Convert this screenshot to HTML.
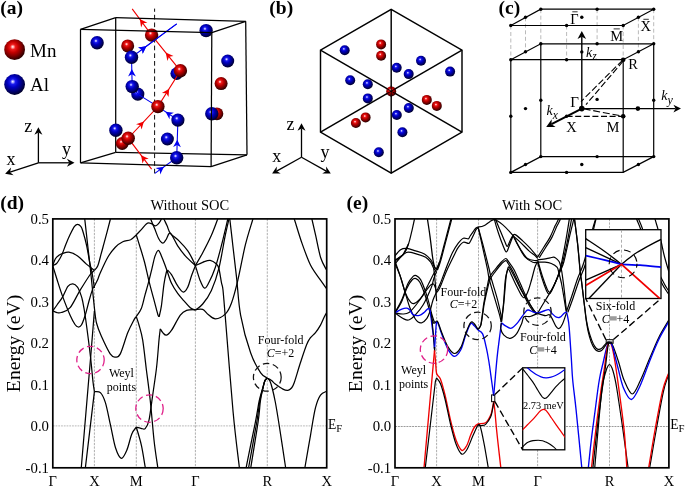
<!DOCTYPE html>
<html><head><meta charset="utf-8"><title>Figure</title>
<style>html,body{margin:0;padding:0;background:#fff;}svg{display:block;will-change:transform;}text{font-family:"Liberation Serif",serif;}</style>
</head><body>
<svg width="685" height="486" viewBox="0 0 685 486">
<defs>
<radialGradient id="gr" cx="0.43" cy="0.40" r="0.64" fx="0.41" fy="0.36"><stop offset="0" stop-color="#ffffff"/><stop offset="0.07" stop-color="#ffb0b0"/><stop offset="0.2" stop-color="#ee1a1a"/><stop offset="0.42" stop-color="#c00000"/><stop offset="0.68" stop-color="#780000"/><stop offset="0.88" stop-color="#3a0000"/><stop offset="1" stop-color="#1a0000"/></radialGradient>
<radialGradient id="gb" cx="0.43" cy="0.40" r="0.64" fx="0.41" fy="0.36"><stop offset="0" stop-color="#ffffff"/><stop offset="0.07" stop-color="#b0b0ff"/><stop offset="0.2" stop-color="#1a1aee"/><stop offset="0.42" stop-color="#0000c0"/><stop offset="0.68" stop-color="#000078"/><stop offset="0.88" stop-color="#00003a"/><stop offset="1" stop-color="#00001a"/></radialGradient>
</defs>
<rect width="685" height="486" fill="#fff"/>
<text x="0.3" y="13.6" font-size="19.5" text-anchor="start" font-weight="bold" font-style="normal" fill="#000" >(a)</text>
<circle cx="14.6" cy="49.7" r="10.4" fill="url(#gr)"/>
<circle cx="14.6" cy="84.5" r="10.4" fill="url(#gb)"/>
<text x="30" y="56.6" font-size="19" text-anchor="start" font-weight="normal" font-style="normal" fill="#000" >Mn</text>
<text x="30" y="91" font-size="19" text-anchor="start" font-weight="normal" font-style="normal" fill="#000" >Al</text>
<path d="M38.4,162.8 L38.4,132.4" fill="none" stroke="#000" stroke-width="1.3" />
<polygon points="38.4,127.2 42.4,134.8 38.4,132.4 34.4,134.8" fill="#000"/>
<path d="M38.4,162.8 L69.3,162.8" fill="none" stroke="#000" stroke-width="1.3" />
<polygon points="74.5,162.8 66.9,166.8 69.3,162.8 66.9,158.8" fill="#000"/>
<path d="M38.4,162.8 L10,172.2" fill="none" stroke="#000" stroke-width="1.3" />
<polygon points="5.1,173.8 11.1,167.6 10,172.2 13.6,175.2" fill="#000"/>
<text x="24.3" y="131.6" font-size="18" text-anchor="start" font-weight="normal" font-style="normal" fill="#000" >z</text>
<text x="62" y="155.3" font-size="18" text-anchor="start" font-weight="normal" font-style="normal" fill="#000" >y</text>
<text x="6.4" y="164.7" font-size="18" text-anchor="start" font-weight="normal" font-style="normal" fill="#000" >x</text>
<path d="M115.7,17.6 L115.7,152.3" fill="none" stroke="#000" stroke-width="1.25" />
<path d="M115.7,152.3 L247,154.8" fill="none" stroke="#000" stroke-width="1.25" />
<path d="M115.7,152.3 L80.5,162.9" fill="none" stroke="#000" stroke-width="1.25" />
<path d="M154.6,8.6 L154.6,173.4" fill="none" stroke="#000" stroke-width="0.95" stroke-dasharray="4.7,3" stroke-dashoffset="1.5"/>
<circle cx="97.1" cy="42.7" r="6.7" fill="url(#gb)"/>
<circle cx="127.7" cy="45.9" r="6.5" fill="url(#gr)"/>
<circle cx="206.1" cy="30.6" r="6.7" fill="url(#gb)"/>
<circle cx="227.7" cy="61" r="6.5" fill="url(#gb)"/>
<circle cx="221.1" cy="83.6" r="6.5" fill="url(#gr)"/>
<circle cx="216.9" cy="113.8" r="6.4" fill="url(#gr)"/>
<circle cx="211.8" cy="113.8" r="6.7" fill="url(#gb)"/>
<circle cx="176.7" cy="73.6" r="6.3" fill="url(#gb)"/>
<circle cx="137.8" cy="94.1" r="6.6" fill="url(#gb)"/>
<circle cx="122.2" cy="143.5" r="6.4" fill="url(#gr)"/>
<circle cx="115.9" cy="130.2" r="6.7" fill="url(#gb)"/>
<circle cx="167.4" cy="139" r="6.5" fill="url(#gb)"/>
<path d="M132.2,8.8 L151.6,35.1 L180.4,70.8 L157.9,106.6 L128.2,138.2 L151.6,169.1" fill="none" stroke="#f00000" stroke-width="1.1" />
<path d="M176.7,23.9 L131.5,57.2 L132.2,86.6 L137.8,94.1 L157.9,106.6 L177.9,120.1 L176.7,157.8 L154.8,173.4" fill="none" stroke="#0000f0" stroke-width="1.1" />
<polygon points="139.8,19.1 147.4,22.8 142.9,23.3 141.1,27.4" fill="#f00000"/>
<polygon points="165.7,52.6 173.5,56 169,56.7 167.4,60.9" fill="#f00000"/>
<polygon points="169.2,88.7 168.5,97.1 166.3,93.2 161.9,93" fill="#f00000"/>
<polygon points="143.9,121.5 141.6,129.6 140.3,125.3 136,124.2" fill="#f00000"/>
<polygon points="141.1,155.2 148.7,158.8 144.3,159.4 142.5,163.5" fill="#f00000"/>
<polygon points="146.4,46.2 142.7,53.8 142.1,49.4 138.1,47.5" fill="#0000f0"/>
<polygon points="131.8,69 135.9,76.4 131.9,74.3 128.1,76.6" fill="#0000f0"/>
<polygon points="165.5,111.7 173.9,112.7 169.9,114.7 169.5,119.2" fill="#0000f0"/>
<polygon points="177.3,139.7 180.9,147.3 177.1,145 173.1,147.1" fill="#0000f0"/>
<polygon points="164,166.8 160.2,174.4 159.7,169.9 155.6,168" fill="#0000f0"/>
<circle cx="151.6" cy="35.1" r="6.7" fill="url(#gr)"/>
<path d="M176.7,23.9 L140,50.9" fill="none" stroke="#0000f0" stroke-width="1.1" />
<polygon points="146.4,46.2 142.7,53.8 142.1,49.4 138.1,47.5" fill="#0000f0"/>
<circle cx="131.5" cy="57.2" r="6.7" fill="url(#gb)"/>
<circle cx="180.4" cy="70.8" r="6.7" fill="url(#gr)"/>
<circle cx="132.2" cy="86.6" r="6.7" fill="url(#gb)"/>
<circle cx="157.9" cy="106.6" r="6.7" fill="url(#gr)"/>
<circle cx="177.9" cy="120.1" r="6.6" fill="url(#gb)"/>
<circle cx="128.2" cy="138.2" r="6.7" fill="url(#gr)"/>
<circle cx="176.7" cy="157.8" r="6.7" fill="url(#gb)"/>
<path d="M80.5,29.4 L211.8,32.6" fill="none" stroke="#000" stroke-width="1.25" />
<path d="M115.7,17.6 L245.7,21.3" fill="none" stroke="#000" stroke-width="1.25" />
<path d="M80.5,29.4 L115.7,17.6" fill="none" stroke="#000" stroke-width="1.25" />
<path d="M211.8,32.6 L245.7,21.3" fill="none" stroke="#000" stroke-width="1.25" />
<path d="M80.5,29.4 L80.5,162.9" fill="none" stroke="#000" stroke-width="1.25" />
<path d="M211.8,32.6 L211.1,166.6" fill="none" stroke="#000" stroke-width="1.25" />
<path d="M245.7,21.3 L247,154.8" fill="none" stroke="#000" stroke-width="1.25" />
<path d="M80.5,162.9 L211.1,166.6" fill="none" stroke="#000" stroke-width="1.25" />
<path d="M211.1,166.6 L247,154.8" fill="none" stroke="#000" stroke-width="1.25" />
<text x="269.3" y="13.6" font-size="19.5" text-anchor="start" font-weight="bold" font-style="normal" fill="#000" >(b)</text>
<path d="M320.5,50.2 L462,132.2" fill="none" stroke="#000" stroke-width="1.45" />
<path d="M462,50.2 L320.5,132.2" fill="none" stroke="#000" stroke-width="1.45" />
<path d="M391.2,9.3 L391.2,173.2" fill="none" stroke="#000" stroke-width="1.45" />
<circle cx="344.7" cy="50.2" r="5" fill="url(#gb)"/>
<circle cx="381.1" cy="44.4" r="5" fill="url(#gr)"/>
<circle cx="381.1" cy="55.7" r="5" fill="url(#gr)"/>
<circle cx="396.7" cy="67.8" r="5" fill="url(#gb)"/>
<circle cx="408.7" cy="74.1" r="5" fill="url(#gb)"/>
<circle cx="421" cy="60.8" r="5" fill="url(#gb)"/>
<circle cx="450.1" cy="71.6" r="5" fill="url(#gb)"/>
<circle cx="350.2" cy="80.3" r="5" fill="url(#gb)"/>
<circle cx="367.8" cy="84.2" r="5" fill="url(#gb)"/>
<circle cx="367.8" cy="98.4" r="5" fill="url(#gb)"/>
<circle cx="391.2" cy="91.4" r="5" fill="url(#gr)"/>
<circle cx="426.8" cy="99.9" r="5" fill="url(#gr)"/>
<circle cx="436.8" cy="105.9" r="5" fill="url(#gr)"/>
<circle cx="408.8" cy="108" r="5" fill="url(#gb)"/>
<circle cx="396.8" cy="115" r="5" fill="url(#gb)"/>
<circle cx="365.6" cy="117.4" r="5" fill="url(#gr)"/>
<circle cx="355.9" cy="123" r="5" fill="url(#gr)"/>
<circle cx="402.4" cy="132.2" r="5" fill="url(#gb)"/>
<circle cx="378.8" cy="152.3" r="5" fill="url(#gb)"/>
<polygon points="391.2,9.3 462,50.2 462,132.2 391.2,173.2 320.5,132.2 320.5,50.2" fill="none" stroke="#000" stroke-width="1.45" stroke-linejoin="miter"/>
<path d="M386,88.2 L396.4,94.2" fill="none" stroke="#000" stroke-width="0.9" />
<path d="M396.4,88.2 L386,94.2" fill="none" stroke="#000" stroke-width="0.9" />
<path d="M391.2,85.5 L391.2,97" fill="none" stroke="#000" stroke-width="0.9" />
<path d="M301.5,157.3 L301.5,128.4" fill="none" stroke="#000" stroke-width="1.3" />
<polygon points="301.5,123.2 305.5,130.8 301.5,128.4 297.5,130.8" fill="#000"/>
<path d="M301.5,157.3 L276.6,171.1" fill="none" stroke="#000" stroke-width="1.3" />
<polygon points="272.1,173.6 276.8,166.4 276.6,171.1 280.7,173.4" fill="#000"/>
<path d="M301.5,157.3 L326.3,171.1" fill="none" stroke="#000" stroke-width="1.3" />
<polygon points="330.8,173.6 322.2,173.4 326.3,171.1 326.1,166.4" fill="#000"/>
<text x="286.5" y="130.2" font-size="18" text-anchor="start" font-weight="normal" font-style="normal" fill="#000" >z</text>
<text x="272.3" y="161.6" font-size="18" text-anchor="start" font-weight="normal" font-style="normal" fill="#000" >x</text>
<text x="320.5" y="157.8" font-size="18" text-anchor="start" font-weight="normal" font-style="normal" fill="#000" >y</text>
<text x="498.6" y="13.6" font-size="19.5" text-anchor="start" font-weight="bold" font-style="normal" fill="#000" >(c)</text>
<path d="M510.8,25.5 L510.8,59.8" fill="none" stroke="#a8a8a8" stroke-width="0.8" stroke-dasharray="4,2.5"/>
<path d="M525.5,17.3 L525.5,51.6" fill="none" stroke="#a8a8a8" stroke-width="0.8" stroke-dasharray="4,2.5"/>
<path d="M540.8,9.2 L540.8,43.5" fill="none" stroke="#a8a8a8" stroke-width="0.8" stroke-dasharray="4,2.5"/>
<path d="M597.1,9.2 L597.1,43.5" fill="none" stroke="#a8a8a8" stroke-width="0.8" stroke-dasharray="4,2.5"/>
<path d="M653.7,9.2 L653.7,43.5" fill="none" stroke="#a8a8a8" stroke-width="0.8" stroke-dasharray="4,2.5"/>
<path d="M638.4,17.3 L638.4,51.6" fill="none" stroke="#a8a8a8" stroke-width="0.8" stroke-dasharray="4,2.5"/>
<path d="M623.2,25.5 L623.2,59.8" fill="none" stroke="#a8a8a8" stroke-width="0.8" stroke-dasharray="4,2.5"/>
<path d="M566.6,25.5 L566.6,59.8" fill="none" stroke="#a8a8a8" stroke-width="0.8" stroke-dasharray="4,2.5"/>
<polygon points="510.8,25.5 540.8,9.2 653.7,9.2 623.2,25.5" fill="none" stroke="#000" stroke-width="1.2"/>
<circle cx="510.8" cy="25.5" r="1.7" fill="#000"/>
<circle cx="525.5" cy="17.3" r="1.7" fill="#000"/>
<circle cx="540.8" cy="9.2" r="1.7" fill="#000"/>
<circle cx="597.1" cy="9.2" r="1.7" fill="#000"/>
<circle cx="653.7" cy="9.2" r="1.7" fill="#000"/>
<circle cx="638.4" cy="17.3" r="1.7" fill="#000"/>
<circle cx="623.2" cy="25.5" r="1.7" fill="#000"/>
<circle cx="566.6" cy="25.5" r="1.7" fill="#000"/>
<circle cx="581.8" cy="17.3" r="1.7" fill="#000"/>
<polygon points="510.8,59.7 540.8,43.8 653.7,43.8 623.2,59.7" fill="none" stroke="#000" stroke-width="1.2"/>
<polygon points="510.8,172.4 540.8,156.6 653.7,156.6 623.2,172.4" fill="none" stroke="#000" stroke-width="1.2"/>
<path d="M510.8,59.7 L510.8,172.4" fill="none" stroke="#000" stroke-width="1.2" />
<path d="M540.8,43.8 L540.8,156.6" fill="none" stroke="#000" stroke-width="1.2" />
<path d="M653.7,43.8 L653.7,156.6" fill="none" stroke="#000" stroke-width="1.2" />
<path d="M623.2,59.7 L623.2,172.4" fill="none" stroke="#000" stroke-width="1.2" />
<circle cx="510.8" cy="59.7" r="1.7" fill="#000"/>
<circle cx="525.5" cy="51.7" r="1.7" fill="#000"/>
<circle cx="540.8" cy="43.8" r="1.7" fill="#000"/>
<circle cx="597.1" cy="43.8" r="1.7" fill="#000"/>
<circle cx="653.7" cy="43.8" r="1.7" fill="#000"/>
<circle cx="638.4" cy="51.7" r="1.7" fill="#000"/>
<circle cx="566.6" cy="59.7" r="1.7" fill="#000"/>
<circle cx="510.8" cy="172.4" r="1.7" fill="#000"/>
<circle cx="525.5" cy="164.5" r="1.7" fill="#000"/>
<circle cx="540.8" cy="156.6" r="1.7" fill="#000"/>
<circle cx="597.1" cy="156.6" r="1.7" fill="#000"/>
<circle cx="653.7" cy="156.6" r="1.7" fill="#000"/>
<circle cx="638.4" cy="164.5" r="1.7" fill="#000"/>
<circle cx="566.6" cy="172.4" r="1.7" fill="#000"/>
<circle cx="581.8" cy="164.5" r="1.7" fill="#000"/>
<circle cx="510.8" cy="116.3" r="1.7" fill="#000"/>
<circle cx="540.8" cy="100.3" r="1.7" fill="#000"/>
<circle cx="653.7" cy="100.3" r="1.7" fill="#000"/>
<circle cx="525.5" cy="108.6" r="1.7" fill="#000"/>
<circle cx="597.1" cy="99.4" r="1.7" fill="#000"/>
<circle cx="566.6" cy="116.3" r="1.7" fill="#000"/>
<circle cx="581.8" cy="51.9" r="1.7" fill="#000"/>
<circle cx="623.2" cy="59.7" r="2.3" fill="#000"/>
<circle cx="623.2" cy="116.3" r="2.3" fill="#000"/>
<circle cx="637.9" cy="108.6" r="2.3" fill="#000"/>
<circle cx="581.8" cy="108.6" r="2.8" fill="#000"/>
<path d="M581.8,108.6 L581.8,36.7" fill="none" stroke="#000" stroke-width="1.4" />
<polygon points="581.8,31.1 586.1,39.1 581.8,36.7 577.5,39.1" fill="#000"/>
<path d="M581.8,108.6 L675.6,108.6" fill="none" stroke="#000" stroke-width="1.4" />
<polygon points="681,108.6 673.4,112.4 675.6,108.6 673.4,104.8" fill="#000"/>
<path d="M581.8,108.6 L551.5,124.2" fill="none" stroke="#000" stroke-width="2.0" />
<polygon points="546.2,127 551.7,119.3 551.5,124.2 555.6,127" fill="#000"/>
<path d="M566.6,116.4 L623.2,116.4" fill="none" stroke="#000" stroke-width="1.1" stroke-dasharray="6,2.6"/>
<path d="M583.6,108.8 L622.1,116.1" fill="none" stroke="#000" stroke-width="1.1" stroke-dasharray="7,2.8"/>
<path d="M622.5,60.3 L581,101.6" fill="none" stroke="#000" stroke-width="1.1" stroke-dasharray="6.5,2.6"/>
<path d="M623.1,61.2 L586,104.6" fill="none" stroke="#000" stroke-width="1.1" stroke-dasharray="6.5,2.6"/>
<text x="570.3" y="23.6" font-size="14.5" text-anchor="start" font-weight="normal" font-style="normal" fill="#000" >Γ</text>
<path d="M572.3,11.8 L577.6,11.8" fill="none" stroke="#000" stroke-width="0.8" />
<text x="610.3" y="40.6" font-size="14.5" text-anchor="start" font-weight="normal" font-style="normal" fill="#000" >M</text>
<path d="M613.6,28.9 L619.8,28.9" fill="none" stroke="#000" stroke-width="0.8" />
<text x="640.6" y="30.9" font-size="14.5" text-anchor="start" font-weight="normal" font-style="normal" fill="#000" >X</text>
<path d="M643.4,19.3 L648.8,19.3" fill="none" stroke="#000" stroke-width="0.8" />
<text x="586" y="57.3" font-size="14" text-anchor="start" font-weight="normal" font-style="italic" fill="#000" >k</text>
<text x="592.3" y="60.3" font-size="11.5" text-anchor="start" font-weight="normal" font-style="italic" fill="#000" >z</text>
<text x="628.2" y="68.5" font-size="14.5" text-anchor="start" font-weight="normal" font-style="normal" fill="#000" >R</text>
<text x="570.3" y="106.8" font-size="15" text-anchor="start" font-weight="normal" font-style="normal" fill="#000" >Γ</text>
<text x="546.6" y="115.3" font-size="14" text-anchor="start" font-weight="normal" font-style="italic" fill="#000" >k</text>
<text x="552.8" y="118.7" font-size="11.5" text-anchor="start" font-weight="normal" font-style="italic" fill="#000" >x</text>
<text x="566.2" y="131.9" font-size="14.5" text-anchor="start" font-weight="normal" font-style="normal" fill="#000" >X</text>
<text x="606.6" y="131.9" font-size="14.5" text-anchor="start" font-weight="normal" font-style="normal" fill="#000" >M</text>
<text x="661.2" y="100.2" font-size="14" text-anchor="start" font-weight="normal" font-style="italic" fill="#000" >k</text>
<text x="667.5" y="103.6" font-size="12" text-anchor="start" font-weight="normal" font-style="italic" fill="#000" >y</text>
<path d="M94.4,218.9 L94.4,467.8" fill="none" stroke="#8c8c8c" stroke-width="0.7" stroke-dasharray="2.3,1.2"/>
<path d="M136.3,218.9 L136.3,467.8" fill="none" stroke="#8c8c8c" stroke-width="0.7" stroke-dasharray="2.3,1.2"/>
<path d="M195.4,218.9 L195.4,467.8" fill="none" stroke="#8c8c8c" stroke-width="0.7" stroke-dasharray="2.3,1.2"/>
<path d="M267.3,218.9 L267.3,467.8" fill="none" stroke="#8c8c8c" stroke-width="0.7" stroke-dasharray="2.3,1.2"/>
<path d="M52.8,425.9 L326.7,425.9" fill="none" stroke="#a0a0a0" stroke-width="0.75" stroke-dasharray="1.8,0.95"/>
<clipPath id="clipd"><rect x="52.8" y="218.9" width="273.9" height="248.9"/></clipPath>
<g clip-path="url(#clipd)">
<path d="M52.7,265.6 C53.4,265.2 55.4,264.7 56.6,263.5 C57.8,262.3 59.1,259.9 60.1,258.2 C61.1,256.5 61.4,255.9 62.4,253.5 C63.4,251.1 64.7,247.2 66,244 C67.3,240.8 68.7,237.5 70.1,234.6 C71.5,231.7 73.2,228.1 74.5,226.4 C75.8,224.7 76.5,224.3 77.6,224.3 C78.6,224.3 79.9,225.3 80.8,226.4 C81.7,227.5 81.8,227.8 82.7,230.8 C83.6,233.8 85.2,238.9 86.4,244.6 C87.7,250.2 89.2,260 90.2,264.7 C91.2,269.4 91.4,269.1 92.1,273 C92.8,276.9 94,285.5 94.4,288" fill="none" stroke="#000" stroke-width="1.25" />
<path d="M52.7,265.6 C53.2,264.5 54.4,260.5 55.4,258.8 C56.4,257.1 57.7,256.2 58.9,255.3 C60.1,254.4 60.7,254 62.4,253.5 C64.1,253 66.4,251.8 68.9,252.2 C71.4,252.6 74.7,254 77.6,256 C80.5,258 83.6,261.7 86.4,264.1 C89.2,266.5 93.1,269.3 94.4,270.4" fill="none" stroke="#000" stroke-width="1.25" />
<path d="M84.3,215 L90.8,273 L94.4,308" fill="none" stroke="#000" stroke-width="1.25" />
<path d="M52.7,265.6 C53.5,268.2 55.9,275.9 57.5,281 C59.1,286.1 60.5,290.7 62.6,296.4 C64.7,302.1 68,310.5 70.1,315.2 C72.2,319.9 73.7,322.5 75,324.5 C76.3,326.5 77.1,326.9 78.2,327 C79.3,327.1 80.2,327 81.4,325 C82.6,323 83.9,319.2 85.2,315.2 C86.5,311.2 87.8,305.4 89,301 C90.2,296.6 91.8,291.4 92.7,288.9 C93.6,286.4 93.6,287.5 94.4,286 C95.2,284.5 96.5,282.2 97.5,280 C98.5,277.8 98.5,276.8 100.2,273 C101.9,269.2 105.3,261.5 107.8,257.2 C110.3,252.9 112.8,249.8 115.3,247.2 C117.8,244.6 120.2,243.1 122.8,241.8 C125.3,240.6 128.3,240.8 130.6,239.7 C132.8,238.5 135.4,235.7 136.3,234.9" fill="none" stroke="#000" stroke-width="1.25" />
<path d="M52.7,310.8 C53.4,309.8 55.4,307.3 57,305 C58.6,302.7 60.7,300.2 62.5,297.1 C64.3,294 66.2,288.5 67.9,286.3 C69.6,284.1 71.3,283.7 72.9,283.8 C74.5,283.9 76.2,285.3 77.5,287.1 C78.8,288.9 80,292.3 80.8,294.6 C81.6,296.9 81.8,297.1 82.6,301 C83.4,304.9 84.2,308.6 85.5,318 C86.8,327.4 89.4,347.2 90.6,357.7 C91.8,368.2 92.3,375.4 92.9,381 C93.5,386.6 94.2,389.8 94.4,391.6" fill="none" stroke="#000" stroke-width="1.25" />
<path d="M52.7,310.8 C53.4,311.1 55.6,312.3 57,312.6 C58.4,312.9 59.1,313.3 61.3,312.5 C63.5,311.7 66.9,311.4 70.1,307.7 C73.2,304 76.8,295.6 80.2,290.1 C83.6,284.6 87.8,277.8 90.2,274.5 C92.6,271.2 93.7,271.1 94.4,270.4" fill="none" stroke="#000" stroke-width="1.25" />
<path d="M94.4,311 L90.6,357.7 L88.6,381 L81.3,467.5 L80.5,477" fill="none" stroke="#000" stroke-width="1.25" />
<path d="M94.4,391.6 L85.4,467.5 L84.3,477" fill="none" stroke="#000" stroke-width="1.25" />
<path d="M94.4,270.4 C95,269.7 96.6,268.6 97.7,266 C98.8,263.4 99.9,258.5 100.9,254.7 C102,250.9 102.4,249.3 104,243.4 C105.6,237.5 109.1,224.2 110.3,219.5 C111.5,214.8 111.2,215.8 111.4,215" fill="none" stroke="#000" stroke-width="1.25" />
<path d="M94.4,308 C94.8,310.5 95.3,318.3 96.5,323 C97.7,327.7 99.1,331.2 101.4,336.3 C103.7,341.4 107.9,350.4 110.2,353.9 C112.5,357.3 113.5,357 115.2,357 C116.9,357 118.2,358 120.3,353.9 C122.4,349.8 125.5,338.3 127.8,332.6 C130.1,326.9 132.7,322.3 134.1,319.6 C135.5,316.9 135.9,317.1 136.3,316.6" fill="none" stroke="#000" stroke-width="1.25" />
<path d="M94.4,391.6 C95.4,391.8 98.6,390.8 100.4,392.6 C102.2,394.4 103.7,397.2 105.4,402.6 C107.1,408 108.8,417.7 110.5,425.2 C112.2,432.7 113.7,442.3 115.5,447.8 C117.3,453.3 119.4,457.9 121.3,458.3 C123.2,458.7 125,454.4 126.8,450.3 C128.6,446.2 130.2,437.9 131.8,434 C133.4,430.1 135.6,428.3 136.3,427.2" fill="none" stroke="#000" stroke-width="1.25" />
<path d="M136.3,234.9 C137.1,234 139.6,231.4 141.3,229.6 C143,227.8 144.9,225 146.3,223.9 C147.7,222.8 148.6,223 149.5,223 C150.4,223 151.1,223.4 152,223.9 C152.9,224.4 154.2,225.7 155.1,225.8 C156,225.9 156.6,225.5 157.6,224.6 C158.6,223.7 160,221.8 160.8,220.2 C161.6,218.6 162.3,215.9 162.6,215" fill="none" stroke="#000" stroke-width="1.25" />
<path d="M149.6,215 C149.8,215.7 149.9,216.8 150.7,219 C151.5,221.2 153.1,225 154.5,228.3 C155.9,231.6 157.5,236.5 158.9,239 C160.3,241.5 161.8,243.1 163,243.1 C164.2,243.1 165.2,240.6 166.4,239 C167.6,237.4 168.5,232.2 170.4,233.3 C172.3,234.5 175.2,242.1 177.7,245.9 C180.2,249.7 182.4,252.6 185.3,255.9 C188.2,259.2 193.7,264 195.4,265.6" fill="none" stroke="#000" stroke-width="1.25" />
<path d="M162.3,215 C162.6,215.7 163.1,217.2 163.9,219 C164.7,220.8 166,223.4 167.1,225.8 C168.2,228.2 168.4,230.8 170.4,233.3 C172.4,235.8 176.1,238 179,240.9 C181.9,243.8 185.4,247.6 187.8,250.9 C190.2,254.2 192.1,258.6 193.4,261 C194.7,263.4 195.1,264.8 195.4,265.6" fill="none" stroke="#000" stroke-width="1.25" />
<path d="M136.3,234.9 C136.9,236.9 138.7,242.7 140.1,247.2 C141.5,251.7 143,256.4 144.5,262 C146,267.6 147.3,274.5 148.9,280.8 C150.5,287.1 152.4,294.1 153.9,299.7 C155.4,305.3 157,311.8 157.9,314.7 C158.8,317.6 158.9,316.4 159.1,316.8" fill="none" stroke="#000" stroke-width="1.25" />
<path d="M159.1,316.8 C159.5,315 160.6,311.3 161.4,305.9 C162.2,300.5 163.1,290.2 163.9,284.6 C164.7,279 165.8,274.4 166.4,272 C167,269.6 167.5,270.5 167.7,270.2" fill="none" stroke="#000" stroke-width="1.25" />
<path d="M167.7,270.2 C168.3,270.9 169.8,272 171.5,274.6 C173.2,277.2 175.7,283 177.7,285.9 C179.7,288.8 181.7,291.9 183.4,292.1 C185.1,292.3 186.5,289.8 187.8,287.1 C189.2,284.4 190.2,279.4 191.5,275.8 C192.8,272.2 194.8,267.3 195.4,265.6" fill="none" stroke="#000" stroke-width="1.25" />
<path d="M136.3,316.6 C137.1,315.2 139.8,312.2 141.3,308.5 C142.8,304.8 143.8,299.2 145.1,294.6 C146.4,290 147.8,285.2 148.9,280.8 C150.1,276.4 151,272.4 152,268.3 C153,264.2 154,258.9 155.1,255.9 C156.2,252.9 157.2,250.3 158.3,250.3 C159.4,250.3 160.4,253.6 161.4,255.9 C162.4,258.2 163.7,261.5 164.6,264 C165.5,266.5 165.9,267.6 167.1,270.8 C168.2,274 169.7,279.5 171.5,283.3 C173.3,287.1 175.6,290.5 177.7,293.4 C179.8,296.3 181.9,298.5 184,300.9 C186.1,303.3 188.4,306.2 190.3,307.8 C192.2,309.4 194.6,309.9 195.4,310.3" fill="none" stroke="#000" stroke-width="1.25" />
<path d="M136.3,316.6 C136.8,318 137.9,321.1 139,325 C140.1,328.9 141.5,332.7 142.7,340.2 C143.9,347.7 145.2,360 146.4,370 C147.7,380 148.9,388.3 150.2,400 C151.5,411.7 152.8,428.8 154,440 C155.2,451.2 156.9,461.2 157.7,467 C158.4,472.8 158.4,473.7 158.5,475" fill="none" stroke="#000" stroke-width="1.25" />
<path d="M136.3,427.2 C137.1,427.4 139.5,428.1 141,428.3 C142.5,428.5 143.9,430 145.2,428.6 C146.5,427.2 147.8,425.8 149,420.2 C150.2,414.6 151.4,403.8 152.7,395.1 C153.9,386.4 155.4,377.2 156.5,368 C157.6,358.8 158.4,346.5 159,340 C159.6,333.5 160.1,330.8 160.3,328.9" fill="none" stroke="#000" stroke-width="1.25" />
<path d="M160.3,328.9 C160.7,329.5 161.8,331.6 162.8,332.7 C163.8,333.8 165,335.6 166.5,335.2 C168,334.8 169.3,333.5 171.6,330.2 C173.9,326.9 177.8,318.4 180.3,315.1 C182.8,311.8 184.1,311.2 186.6,310.3 C189.1,309.4 193.9,309.6 195.4,309.5" fill="none" stroke="#000" stroke-width="1.25" />
<path d="M136.3,427.2 C137.2,430.2 139.9,438.7 141.4,445.3 C142.9,451.9 144.3,462.1 145.2,467 C146,471.9 146.3,473.7 146.5,475" fill="none" stroke="#000" stroke-width="1.25" />
<path d="M195.4,265.6 C196.6,263.5 200,257.8 202.7,252.7 C205.4,247.6 208.9,240.8 211.4,235.2 C213.9,229.6 216.4,222.4 217.7,219 C219,215.6 218.8,215.7 219,215" fill="none" stroke="#000" stroke-width="1.25" />
<path d="M195.4,265.6 C196.6,265.1 200.2,263.2 202.7,262.3 C205.2,261.4 207.9,260 210.2,260.3 C212.5,260.6 215,262.6 216.5,264 C218,265.4 218.2,265.9 219,269 C219.8,272.1 220.8,279.4 221.5,282.9 C222.2,286.4 222.4,284.3 223,290 C223.6,295.7 223.6,296.7 225.3,317 C227,337.3 230.8,387 233.1,412 C235.4,437 238.1,456.5 239.3,467 C240.5,477.5 240,473.7 240.2,475" fill="none" stroke="#000" stroke-width="1.25" />
<path d="M195.4,265.6 C196.2,268.1 198.6,276.6 200.1,280.4 C201.6,284.2 203,287.8 204.5,288.2 C206,288.6 207.1,285.9 208.9,282.5 C210.7,279.1 213.1,274 215.2,267.8 C217.3,261.6 219.4,253.3 221.5,245.2 C223.6,237.1 226.6,224 227.8,219 C229,214 228.6,215.7 228.8,215" fill="none" stroke="#000" stroke-width="1.25" />
<path d="M195.4,309.5 C196.6,309.5 200.6,308.5 202.7,309.3 C204.8,310.1 206.1,312.9 208.2,314.5 C210.3,316.1 212.6,319 215.5,318.9 C218.4,318.8 222.8,316.5 225.5,313.9 C228.2,311.2 229.4,308.6 231.5,303 C233.6,297.4 235.5,290 237.8,280.4 C240.1,270.8 242.8,255.4 245.3,245.2 C247.8,235 251.5,224 252.9,219 C254.3,214 253.8,215.7 254,215" fill="none" stroke="#000" stroke-width="1.25" />
<path d="M195.4,310.3 C196.6,309.2 200,307.3 202.7,304 C205.4,300.7 208.7,296.4 211.4,290.4 C214.1,284.4 216.7,277 219,267.8 C221.3,258.6 223.6,243.3 225.3,235.2 C227,227.1 228.2,222.4 229,219 C229.8,215.6 229.8,215.7 229.9,215" fill="none" stroke="#000" stroke-width="1.25" />
<path d="M229.4,215 C229.5,215.7 229.2,214 229.8,219 C230.4,224 231.7,235.4 232.8,245.2 C233.9,255 235.3,266.2 236.6,277.9 C237.9,289.5 238.3,302.6 240.6,315.1 C242.9,327.6 247.2,343.2 250.6,352.8 C253.9,362.4 257.9,368.7 260.7,372.9 C263.5,377.1 266.2,377.1 267.3,378" fill="none" stroke="#000" stroke-width="1.25" />
<path d="M267.3,378.2 C266.9,378.6 265.8,378.9 265,380.6 C264.2,382.3 263.6,385.1 262.6,388.5 C261.6,391.9 260.4,395.4 259.2,401 C258,406.6 257.6,410.9 255.4,422 C253.2,433.1 247.9,458.2 246.2,467.5 C244.5,476.8 245.2,476.2 245,478" fill="none" stroke="#000" stroke-width="1.25" />
<path d="M267.3,378.2 C266.9,378.6 265.8,378.9 265,380.6 C264.2,382.3 263.6,385.1 262.8,388.5 C261.9,391.9 260.8,395.4 259.8,401 C258.8,406.6 258.6,410.9 256.8,422 C254.9,433.1 250.2,458.2 248.6,467.5 C247,476.8 247.6,476.2 247.4,478" fill="none" stroke="#000" stroke-width="1.25" />
<path d="M267.3,378.2 C266.9,378.6 265.7,378.9 265,380.6 C264.3,382.3 263.7,385.1 262.9,388.5 C262.1,391.9 261.2,395.4 260.4,401 C259.6,406.6 259.7,410.9 258.1,422 C256.5,433.1 252.2,458.2 250.8,467.5 C249.4,476.8 249.8,476.2 249.6,478" fill="none" stroke="#000" stroke-width="1.25" />
<path d="M267.3,378.2 C268,378.6 270.2,379.5 271.5,380.5 C272.8,381.5 273.4,382.7 275.3,384.1 C277.2,385.5 280.8,388.1 282.9,389.1 C285,390.2 286.5,390.6 287.9,390.4 C289.3,390.2 290.4,389.3 291.5,388 C292.6,386.7 292.7,387 294.2,382.8 C295.7,378.6 298.3,369.2 300.4,362.8 C302.5,356.4 305,348.7 306.7,344.5 C308.4,340.3 309,339.7 310.5,337.7 C312,335.7 313.8,334.7 315.5,332.6 C317.2,330.5 319.1,327.6 320.5,325.1 C321.9,322.6 323,319.6 324,317.5 C325,315.4 326.2,313.3 326.7,312.5" fill="none" stroke="#000" stroke-width="1.25" />
<path d="M267.3,378.2 C267.7,378.6 269,379.1 269.8,380.8 C270.6,382.5 271.4,385 272.3,388.5 C273.2,392 274.1,395.8 275.3,402 C276.5,408.2 277.6,415.1 279.3,426 C281,436.9 284.3,458.8 285.6,467.5 C286.9,476.2 286.8,476.2 287,478" fill="none" stroke="#000" stroke-width="1.25" />
<path d="M304,475 C304.2,473.7 303.9,473.6 305,467 C306.1,460.4 308.8,445.2 310.5,435.3 C312.2,425.4 313.8,414.4 315.5,407.7 C317.2,401 318.6,397.8 320.5,395.1 C322.4,392.4 325.7,391.9 326.7,391.3" fill="none" stroke="#000" stroke-width="1.25" />
<path d="M293,215 C293.2,215.7 292.8,214.4 294.3,219 C295.8,223.6 299.1,235 301.8,242.7 C304.5,250.4 307.5,259 310.6,265.3 C313.8,271.6 318,276.4 320.7,280.4 C323.4,284.3 325.7,287.6 326.7,289" fill="none" stroke="#000" stroke-width="1.25" />
<path d="M311,215 C311.1,215.7 311.1,215.6 311.9,219 C312.7,222.4 314.1,228.7 315.6,235.2 C317.1,241.7 318.9,252 320.7,257.8 C322.5,263.7 325.7,268.2 326.7,270.3" fill="none" stroke="#000" stroke-width="1.25" />
</g>
<circle cx="90.5" cy="360" r="13.7" fill="none" stroke="#e0218a" stroke-width="1.3" stroke-dasharray="6.5,3.6"/>
<circle cx="149.5" cy="408.6" r="13.7" fill="none" stroke="#e0218a" stroke-width="1.3" stroke-dasharray="6.5,3.6"/>
<circle cx="267.3" cy="377.3" r="13.9" fill="none" stroke="#111" stroke-width="1.25" stroke-dasharray="6.5,3.6"/>
<text x="121.4" y="377" font-size="12" text-anchor="middle" font-weight="normal" font-style="normal" fill="#000" >Weyl</text>
<text x="121.4" y="390.6" font-size="12" text-anchor="middle" font-weight="normal" font-style="normal" fill="#000" >points</text>
<text x="280.6" y="344" font-size="12" text-anchor="middle" font-weight="normal" font-style="normal" fill="#000" >Four-fold</text>
<text x="280.6" y="356.8" font-size="12" text-anchor="middle" font-weight="normal" font-style="normal" fill="#000" ><tspan font-style="italic">C</tspan>=+2</text>
<rect x="52.8" y="218.9" width="273.9" height="248.9" fill="none" stroke="#000" stroke-width="1.7"/>
<text x="49" y="223.9" font-size="14.8" text-anchor="end" font-weight="normal" font-style="normal" fill="#000" >0.5</text>
<text x="49" y="265.4" font-size="14.8" text-anchor="end" font-weight="normal" font-style="normal" fill="#000" >0.4</text>
<text x="49" y="306.9" font-size="14.8" text-anchor="end" font-weight="normal" font-style="normal" fill="#000" >0.3</text>
<text x="49" y="348.4" font-size="14.8" text-anchor="end" font-weight="normal" font-style="normal" fill="#000" >0.2</text>
<text x="49" y="389.9" font-size="14.8" text-anchor="end" font-weight="normal" font-style="normal" fill="#000" >0.1</text>
<text x="49" y="431.4" font-size="14.8" text-anchor="end" font-weight="normal" font-style="normal" fill="#000" >0.0</text>
<text x="49" y="472.9" font-size="14.8" text-anchor="end" font-weight="normal" font-style="normal" fill="#000" >-0.1</text>
<text x="52.7" y="485.5" font-size="14.5" text-anchor="middle" font-weight="normal" font-style="normal" fill="#000" >Γ</text>
<text x="94.4" y="485.5" font-size="14.5" text-anchor="middle" font-weight="normal" font-style="normal" fill="#000" >X</text>
<text x="136.3" y="485.5" font-size="14.5" text-anchor="middle" font-weight="normal" font-style="normal" fill="#000" >M</text>
<text x="195.4" y="485.5" font-size="14.5" text-anchor="middle" font-weight="normal" font-style="normal" fill="#000" >Γ</text>
<text x="267.3" y="485.5" font-size="14.5" text-anchor="middle" font-weight="normal" font-style="normal" fill="#000" >R</text>
<text x="326.7" y="485.5" font-size="14.5" text-anchor="middle" font-weight="normal" font-style="normal" fill="#000" >X</text>
<text x="189.8" y="209.5" font-size="14.5" text-anchor="middle" font-weight="normal" font-style="normal" fill="#000" >Without SOC</text>
<text x="0.2" y="208.8" font-size="19.5" text-anchor="start" font-weight="bold" font-style="normal" fill="#000" >(d)</text>
<text transform="translate(19.8,343.4) rotate(-90)" font-size="19.7" text-anchor="middle">Energy (eV)</text>
<text x="328" y="429.2" font-size="13.6" text-anchor="start" font-weight="normal" font-style="normal" fill="#000" >E</text>
<text x="336.3" y="432.4" font-size="10.8" text-anchor="start" font-weight="normal" font-style="normal" fill="#000" >F</text>
<path d="M436.6,218.9 L436.6,467.8" fill="none" stroke="#8c8c8c" stroke-width="0.7" stroke-dasharray="2.3,1.2"/>
<path d="M478.5,218.9 L478.5,467.8" fill="none" stroke="#8c8c8c" stroke-width="0.7" stroke-dasharray="2.3,1.2"/>
<path d="M537.6,218.9 L537.6,467.8" fill="none" stroke="#8c8c8c" stroke-width="0.7" stroke-dasharray="2.3,1.2"/>
<path d="M609.5,218.9 L609.5,467.8" fill="none" stroke="#8c8c8c" stroke-width="0.7" stroke-dasharray="2.3,1.2"/>
<path d="M395,426.5 L668.9,426.5" fill="none" stroke="#7a7a7a" stroke-width="0.75" stroke-dasharray="2,0.85"/>
<clipPath id="clipe"><rect x="395.0" y="218.9" width="273.9" height="248.9"/></clipPath>
<g clip-path="url(#clipe)">
<path d="M394.9,261 C396.5,259.7 402,256.3 404.3,253.4 C406.6,250.5 407.4,247.2 408.7,243.4 C410,239.6 410.9,234.8 411.9,230.8 C412.8,226.8 413.8,222.3 414.4,219.5 C415,216.7 415.1,214.9 415.3,214" fill="none" stroke="#000" stroke-width="1.2" />
<path d="M394.9,256 C395.8,254.9 398.6,251 400.6,249.7 C402.6,248.4 404.3,248.2 406.8,248.4 C409.3,248.6 412.7,250 415.6,250.9 C418.5,251.8 421.9,252.6 424.4,254.1 C426.9,255.6 429,257.5 430.7,259.7 C432.4,261.9 433.5,265.6 434.5,267.2 C435.5,268.8 436.2,268.9 436.6,269.3" fill="none" stroke="#000" stroke-width="1.2" />
<path d="M394.9,260.3 C396.3,259.4 400.9,256.1 403.1,254.7 C405.3,253.3 405.8,252.3 408.1,252.2 C410.4,252.1 414,253.3 416.9,254.1 C419.8,254.9 423.4,255.8 425.7,257.2 C428,258.6 429.3,260.3 430.7,262.2 C432.1,264.1 432.8,266.9 433.8,268.5 C434.8,270.1 436.1,271 436.6,271.5" fill="none" stroke="#000" stroke-width="1.2" />
<path d="M394.9,264 C395.6,263.2 397.6,260.6 399,259 C400.4,257.4 401.4,257.1 403,254.5 C404.6,251.9 407.8,245.2 408.7,243.4" fill="none" stroke="#000" stroke-width="1.2" />
<path d="M426.8,214 C426.9,214.9 426.9,215.7 427.5,219.5 C428.1,223.3 429.3,231 430.1,237.1 C430.9,243.2 431.8,251.3 432.4,256 C433,260.6 433.5,262.9 434,265 C434.5,267.1 435.1,268.2 435.6,268.6 C436.1,269 436.6,268.4 437.2,267.3 C437.8,266.2 439.1,263.1 439.5,262.2" fill="none" stroke="#000" stroke-width="1.3" />
<path d="M433.6,268 C433.8,269.3 434.2,272.3 434.6,276 C435,279.7 435.5,285.8 435.8,290 C436.1,294.2 436.5,299.2 436.6,301" fill="none" stroke="#000" stroke-width="1.2" />
<path d="M394.9,263.3 C395.8,265.6 398.8,272.1 400.6,277.1 C402.4,282.1 403.9,289.2 405.6,293.4 C407.3,297.6 409.1,300.5 410.6,302.2 C412.1,303.9 412.7,304 414.4,303.4 C416.1,302.8 418.5,300.7 420.6,298.4 C422.7,296.1 425.1,291.9 426.9,289.6 C428.7,287.3 430.1,285.5 431.3,284.6 C432.5,283.8 433.1,283.3 434,284.5 C434.9,285.7 436.2,290.8 436.6,292" fill="none" stroke="#000" stroke-width="1.2" />
<path d="M394.9,261 C395.8,263.4 398.3,270.3 400,275.5 C401.7,280.7 403.3,286.6 405,292 C406.7,297.4 408.3,303.6 410,308 C411.7,312.4 413.6,316.2 415,318.5 C416.4,320.8 417,321.3 418.1,322 C419.2,322.7 420.4,323.3 421.9,322.7 C423.4,322.1 425.5,320.2 426.9,318.3 C428.3,316.4 429.1,314.1 430.1,311 C431.1,307.9 431.9,303.2 433,300 C434.1,296.8 436,293.3 436.6,292" fill="none" stroke="#000" stroke-width="1.2" />
<path d="M394.9,312.8 C396,310.6 399.6,304.6 401.8,299.7 C404,294.8 406.2,287.2 408.1,283.3 C410,279.4 411.8,277.7 413.1,276.4 C414.5,275.1 414.9,275.1 416.2,275.6 C417.4,276.1 419,276.9 420.6,279.6 C422.2,282.4 424.2,287.9 425.7,292.1 C427.2,296.3 428.4,300.9 429.4,304.7 C430.4,308.5 431,311.8 431.9,314.7 C432.8,317.6 433.7,320.9 434.5,322 C435.3,323.1 436.2,321.2 436.6,321" fill="none" stroke="#000" stroke-width="1.2" />
<path d="M394.9,312.8 C395.9,311.2 399,307.1 401,303 C403,298.9 405.2,291.8 407,288 C408.8,284.2 410.5,281.6 412,280 C413.5,278.4 414.7,278.2 416,278.6 C417.3,279 418.6,279.9 420,282.5 C421.4,285.1 423.3,290.1 424.7,294 C426.1,297.9 427.2,302.3 428.3,306 C429.4,309.7 430.1,313.2 431,316 C431.9,318.8 432.6,322 433.5,323 C434.4,324 436.1,322.2 436.6,322" fill="none" stroke="#000" stroke-width="1.2" />
<path d="M394.9,312.8 C396.5,313.9 401.9,317.9 404.3,319.1 C406.7,320.3 407.4,320.5 409.3,319.8 C411.2,319.1 413.3,317.2 415.6,314.7 C417.9,312.2 420.9,308.5 423.2,304.7 C425.5,300.9 427.9,295.2 429.4,292.1 C430.8,289 431.1,288.2 431.9,285.9 C432.7,283.5 433.2,280.4 434,278 C434.8,275.6 436.2,272.6 436.6,271.5" fill="none" stroke="#000" stroke-width="1.2" />
<path d="M394.9,312.8 C396.2,313 400.6,314.1 403,314 C405.4,313.9 406.8,314 409,312.5 C411.2,311 413.7,307.9 416,305 C418.3,302.1 420.8,298.7 423,295 C425.2,291.3 427.3,286.3 429,283 C430.7,279.7 431.7,277.3 433,275 C434.3,272.7 436,270.2 436.6,269.3" fill="none" stroke="#000" stroke-width="1.2" />
<path d="M394.9,312.8 C396,312.2 399.8,309.9 401.8,309.1 C403.8,308.3 405.4,308 406.8,308.2 C408.2,308.4 408.9,309.2 410,310.3 C411.1,311.4 411.5,313.9 413.1,314.7 C414.7,315.5 417.5,315.8 419.4,315.4 C421.3,315 422.9,313.4 424.4,312.2 C425.9,311 427.6,308.3 428.6,308.3 C429.6,308.3 429.8,309.5 430.4,312.2 C430.9,314.9 431.3,320 431.9,324.6 C432.5,329.2 433.4,335.6 433.8,339.6 C434.2,343.6 434.4,347 434.5,348.5" fill="none" stroke="#0000f0" stroke-width="1.35" />
<path d="M431.3,312 C431.5,314.3 432.2,321 432.6,326 C433.1,331 433.7,338.2 434,342 C434.3,345.8 434.4,347.8 434.5,349" fill="none" stroke="#000" stroke-width="1.1" />
<path d="M434.6,348.5 C434.7,346.8 435.1,341.6 435.3,338 C435.5,334.4 435.8,329.8 436,327 C436.2,324.2 436.5,322.4 436.6,321.5" fill="none" stroke="#0000f0" stroke-width="1.3" />
<path d="M434.5,347 L434.7,351.5" fill="none" stroke="#000" stroke-width="1.4" />
<path d="M434.5,350.5 L424.1,466.7 L423,477" fill="none" stroke="#f00000" stroke-width="1.35" />
<path d="M424.2,477 L425.4,466.7 L435.4,381.3 L436.6,378" fill="none" stroke="#000" stroke-width="1.2" />
<path d="M436.6,270 C437.1,268.7 438.2,266.6 439.5,262.2 C440.8,257.8 442.6,250.5 444.5,243.4 C446.4,236.3 449.6,224.4 450.8,219.5 C452.1,214.6 451.8,214.9 452,214" fill="none" stroke="#000" stroke-width="1.2" />
<path d="M437.4,270.2 C437.8,268.9 438.9,266.8 440.2,262.4 C441.6,258 443.4,250.7 445.2,243.6 C447.1,236.5 450.3,224.6 451.6,219.7 C452.8,214.8 452.6,215.1 452.8,214.2" fill="none" stroke="#000" stroke-width="1.2" />
<path d="M436.6,292.5 C436.9,292.1 437.8,291.3 438.6,290 C439.4,288.7 440,287.3 441.2,284.5 C442.4,281.7 444.1,276.8 445.7,273 C447.3,269.2 449.2,265.2 450.8,262 C452.4,258.8 453.8,255.9 455,253.5 C456.2,251.1 456.9,249.3 458.3,247.4 C459.7,245.5 461.6,243 463.3,242.3 C465,241.6 467.2,243.5 468.3,243.4 C469.4,243.3 469.1,243.6 470,242 C470.9,240.4 473,236.1 474,234 C475,231.9 475.3,230.7 476,229.6 C476.7,228.5 477.8,227.9 478.1,227.6" fill="none" stroke="#000" stroke-width="1.2" />
<path d="M436.6,291 C436.8,290.6 437.4,289.8 438,288.5 C438.6,287.2 439.2,286.1 440.3,283.5 C441.4,280.9 442.9,276.6 444.3,273 C445.7,269.4 447.1,265.4 448.5,262 C449.9,258.6 450.9,255.6 452.5,252.5 C454.1,249.4 456.5,245.6 458.3,243.2 C460.1,240.8 461.6,238.9 463.3,238.2 C465,237.5 467.2,239.1 468.3,238.8 C469.4,238.5 469.1,237.6 470,236.2 C470.9,234.8 473,231.9 474,230.5 C475,229.1 475.3,228.6 476,228 C476.7,227.4 477.8,227.2 478.1,227.1" fill="none" stroke="#000" stroke-width="1.2" />
<path d="M436.6,321.5 C436.9,321.9 437.3,321.5 438.2,323.7 C439.1,325.9 440.3,330.4 442,334.8 C443.7,339.2 446.2,346.2 448.3,349.8 C450.4,353.4 452.4,356.3 454.5,356.3 C456.6,356.3 458.9,353.4 460.8,349.8 C462.7,346.2 464.2,339.1 465.8,334.8 C467.4,330.5 469.2,325.4 470.6,323.8 C472,322.2 472.8,324.4 474,325.5 C475.2,326.6 477.4,329.3 478.1,330.1" fill="none" stroke="#0000f0" stroke-width="1.35" />
<path d="M436.6,320.8 C436.9,321.1 437.3,320.6 438.2,322.7 C439.1,324.8 440.3,329.2 442,333.3 C443.7,337.4 446.2,344 448.3,347.4 C450.4,350.8 452.4,353.5 454.5,353.5 C456.6,353.5 458.9,350.8 460.8,347.4 C462.7,344 464.2,337.4 465.8,333.3 C467.4,329.2 469.2,324.2 470.6,322.6 C472,321 472.8,322.4 474,323.5 C475.2,324.6 477.4,328.5 478.1,329.5" fill="none" stroke="#000" stroke-width="1.2" />
<path d="M434.5,350.5 C434.7,352.4 435.2,358.2 435.6,362 C436,365.8 435.8,370.7 436.6,373.5 C437.4,376.3 439,375.4 440.4,379 C441.8,382.6 443.3,388.1 445,395 C446.7,401.9 448.7,412.7 450.5,420.2 C452.3,427.7 454.1,435 456,440 C457.9,445 460.1,449.3 461.8,450.3 C463.6,451.3 465,448.5 466.5,446 C468,443.5 469.3,438.5 470.6,435.3 C471.9,432.1 473.2,428.9 474.5,427 C475.8,425.1 476.2,424.7 478.1,424 C480,423.3 483.5,424.2 485.6,422.7 C487.7,421.2 489.5,417.6 490.6,415.2 C491.8,412.8 492,410.3 492.5,408 C493,405.7 493.5,402.6 493.7,401.5" fill="none" stroke="#f00000" stroke-width="1.35" />
<path d="M493.7,401.5 C493.9,403.2 494.5,406.8 495,412 C495.5,417.2 495.9,423.7 496.9,432.8 C497.8,441.9 499.9,459.3 500.7,466.7 C501.5,474.1 501.6,475.3 501.8,477" fill="none" stroke="#f00000" stroke-width="1.35" />
<path d="M478.1,425.2 C478.8,425.2 480.8,425.6 482,425.5 C483.2,425.4 484.2,425.7 485.6,424.3 C487,422.9 489.5,419.5 490.6,417 C491.8,414.5 492,411.9 492.5,409.5 C493,407.1 493.5,403.7 493.7,402.5" fill="none" stroke="#000" stroke-width="1.2" />
<path d="M436.6,378 C437.2,378.9 439,380 440.4,383.5 C441.8,387 443.3,392.2 445,399 C446.7,405.8 448.7,416.5 450.5,424 C452.3,431.5 454.1,439 456,444 C457.9,449 460,453.2 461.8,454.1 C463.6,455 465.1,452.6 467,449.5 C468.9,446.4 471.2,439.4 473.1,435.3 C475,431.2 476.9,426.5 478.1,425.2 C479.4,423.9 479.6,424.3 480.6,427.7 C481.7,431.1 483.1,438.8 484.4,445.3 C485.6,451.8 487.2,461.4 488.1,466.7 C489,472 489.5,475.3 489.8,477" fill="none" stroke="#000" stroke-width="1.2" />
<path d="M478.1,227.1 C479.1,226.9 481.8,226.8 483.8,225.8 C485.8,224.9 488.4,222.4 490.1,221.4 C491.8,220.4 492.8,219.8 493.9,219.6 C494.9,219.4 494.9,219.4 496.4,220.2 C497.8,221 500.5,222.8 502.6,224.6 C504.7,226.4 507.1,228.9 508.9,230.8 C510.7,232.7 511.4,234 513.3,235.9 C515.2,237.8 517.6,239.6 520.2,242.1 C522.8,244.6 526.5,248.6 529,250.9 C531.5,253.2 533.9,254.6 535.3,255.9 C536.7,257.2 537.2,258.1 537.6,258.5" fill="none" stroke="#000" stroke-width="1.2" />
<path d="M493.6,214 C493.8,215 493.7,216.6 494.5,219.8 C495.3,223 497.1,229.1 498.5,233.3 C499.9,237.5 501.5,241.9 502.8,245 C504.1,248.1 505.2,251.8 506.3,251.9 C507.4,252.1 508.1,248.4 509.2,245.9 C510.3,243.4 511.7,238.8 512.7,236.9 C513.7,235 513.5,233.9 515.2,234.6 C516.9,235.3 520.2,238.6 522.7,240.9 C525.2,243.2 527.8,245.7 530.3,248.4 C532.8,251.1 536.4,255.7 537.6,257.2" fill="none" stroke="#000" stroke-width="1.2" />
<path d="M495,214 C495.1,215 494.8,216.8 495.8,219.8 C496.8,222.8 499.3,228.4 500.8,232.1 C502.3,235.8 503.9,239.6 505,242 C506.1,244.4 506.4,246.7 507.3,246.4 C508.2,246.1 509.4,242 510.4,240 C511.4,238 513,235.3 513.5,234.4" fill="none" stroke="#000" stroke-width="1.2" />
<path d="M513.3,235.9 C514.2,237.8 517,243.6 519,247.2 C521,250.8 522.9,254.7 525.2,257.2 C527.5,259.7 530.7,261.4 532.8,262.2 C534.9,263 536.8,262.2 537.6,262.2" fill="none" stroke="#000" stroke-width="1.2" />
<path d="M513.9,237.1 C515,239.2 518.5,246.1 520.8,249.7 C523.1,253.3 525.1,256.7 527.5,258.5 C529.9,260.3 533.6,260.4 535.3,260.6 C537,260.9 537.2,260.1 537.6,260" fill="none" stroke="#000" stroke-width="1.2" />
<path d="M478.1,227.1 C478.9,230.4 481.1,240.3 482.6,247.2 C484.1,254.1 486.3,263.5 487.3,268.5 C488.3,273.5 488.2,274.4 488.8,277.1 C489.4,279.8 489.6,280.8 490.7,284.6 C491.8,288.4 493.6,294.7 495.1,299.7 C496.6,304.7 498.5,311 499.5,314.7 C500.5,318.4 500.9,320.8 501.2,322" fill="none" stroke="#000" stroke-width="1.2" />
<path d="M478.1,227.1 C479,230.4 481.8,240.3 483.6,247.2 C485.4,254.1 487.8,263.5 489,268.5 C490.2,273.5 490.2,274.4 490.9,277.1 C491.6,279.8 492,280.8 493.1,284.6 C494.2,288.4 496.2,294.7 497.5,299.7 C498.8,304.7 500.2,311.1 500.9,314.7 C501.6,318.3 501.5,320.4 501.6,321.5" fill="none" stroke="#000" stroke-width="1.2" />
<path d="M501.2,322 C501.6,319.3 502.6,312.8 503.3,305.9 C504,299 504.6,286.5 505.2,280.8 C505.8,275.1 506.4,273.7 507,271.8 C507.6,269.9 507.9,268.8 508.6,269.2 C509.3,269.6 509.9,271.8 511,274.2 C512.1,276.6 513.5,279.8 515.2,283.3 C517,286.9 520,293.1 521.5,295.5 C523,297.9 523.3,297.7 524,297.8 C524.7,297.9 525.1,297.2 525.9,295.9 C526.6,294.6 527.6,292.6 528.5,290 C529.4,287.4 530.4,283.8 531.5,280 C532.6,276.2 534,270 535,267 C536,264 537.2,262.8 537.6,262" fill="none" stroke="#000" stroke-width="1.2" />
<path d="M501.6,321.5 C502,318.2 503.2,309.2 503.9,302 C504.6,294.8 505.4,283.4 506,278 C506.6,272.6 507.1,271.3 507.6,269.5 C508.1,267.7 508.1,266.2 509.2,267.3 C510.2,268.4 512.1,272.3 513.9,275.8 C515.7,279.3 518.3,284.9 520.2,288.4 C522.1,291.8 523.5,293.7 525.2,296.5 C526.9,299.3 528.6,302.4 530.3,305 C532,307.6 534.1,310.8 535.3,312.2 C536.5,313.6 537.2,313.3 537.6,313.5" fill="none" stroke="#000" stroke-width="1.2" />
<path d="M478.1,329.5 C478.5,328.8 479.9,327.9 480.7,325.1 C481.4,322.3 482.1,316.2 482.6,312.6 C483.1,309 483,308.1 483.8,303.4 C484.6,298.7 486.7,289 487.6,284.6 C488.6,280.2 488.2,279.6 489.5,277.1 C490.8,274.6 493.1,272 495.1,269.5 C497.1,267 499.6,263.8 501.4,262 C503.2,260.2 504.6,258.5 505.8,258.5 C507.1,258.5 507.5,260.4 508.9,262.2 C510.2,264 512,266 513.9,269.5 C515.8,273 518.3,279.1 520.2,283.3 C522.1,287.5 523.5,291 525.2,294.6 C526.9,298.2 528.6,301.8 530.3,304.7 C532,307.6 534.1,310.7 535.3,312.2 C536.5,313.7 537.2,313.3 537.6,313.5" fill="none" stroke="#000" stroke-width="1.2" />
<path d="M478.1,329.5 C478.6,328.8 480.1,328 480.9,325.2 C481.7,322.4 482.3,316.2 482.9,312.6 C483.5,309 483.4,307.9 484.3,303.4 C485.2,298.8 487.3,289.4 488.3,285.3 C489.3,281.2 489.3,280.9 490.5,278.5 C491.7,276.1 493.8,273.6 495.6,271.2 C497.4,268.8 499.7,265.8 501.4,264 C503.1,262.2 504.6,260.6 505.8,260.6 C507,260.6 507.3,262.2 508.5,264 C509.7,265.8 511.2,268 513,271.5 C514.8,275 517.4,280.9 519.3,285 C521.2,289.1 522.6,292.6 524.3,296 C526,299.4 527.7,302.9 529.4,305.7 C531.1,308.5 533.2,311.2 534.6,312.6 C536,314 537.1,313.6 537.6,313.8" fill="none" stroke="#000" stroke-width="1.2" />
<path d="M478.1,330.1 C478.9,330.7 481.2,331 482.6,333.9 C484,336.8 485.3,343.2 486.3,347.7 C487.3,352.2 487.9,355.6 488.8,361 C489.7,366.4 490.7,374.2 491.5,380 C492.3,385.8 493.3,393.3 493.7,396" fill="none" stroke="#0000f0" stroke-width="1.35" />
<path d="M493.7,396 C494,392.5 494.9,382.2 495.5,375 C496.1,367.8 496.9,359 497.6,352.8 C498.3,346.6 498.9,342.7 499.5,337.7 C500.1,332.7 501.1,325.3 501.4,322.8" fill="none" stroke="#0000f0" stroke-width="1.35" />
<path d="M501.4,322.8 C502.2,323.4 504.7,325.5 506.4,326.4 C508.1,327.3 509.5,328.8 511.4,328.2 C513.3,327.6 515.6,325 517.7,322.6 C519.8,320.2 522.3,315.9 524,313.8 C525.7,311.7 526.3,310.3 527.8,310 C529.3,309.7 531.2,311.4 532.8,311.9 C534.4,312.4 536.8,313 537.6,313.2" fill="none" stroke="#0000f0" stroke-width="1.35" />
<path d="M501.4,322.8 C501.3,323.8 500.4,326.8 500.8,328.9 C501.2,331 502.3,333.6 503.9,335.2 C505.5,336.8 508.1,338.5 510.2,338.3 C512.3,338.1 514.6,336.3 516.5,333.9 C518.4,331.5 520.2,326.8 521.5,323.9 C522.8,321 522.5,318 524,316.8 C525.5,315.6 528,317.1 530.3,316.5 C532.6,315.9 536.4,313.9 537.6,313.4" fill="none" stroke="#000" stroke-width="1.2" />
<path d="M537.6,257.2 C538.6,255.5 541.7,250.5 543.8,247.2 C545.9,243.8 548.2,240.7 550.1,237.1 C552,233.5 553.8,228.7 555.1,225.8 C556.5,222.9 557.4,221.8 558.2,219.8 C559,217.8 559.5,215 559.8,214" fill="none" stroke="#000" stroke-width="1.2" />
<path d="M539.3,257.7 C540.3,256 543.4,251 545.5,247.7 C547.6,244.3 549.9,241.2 551.8,237.6 C553.7,234 555.5,229.2 556.8,226.3 C558.2,223.4 559.1,222.3 559.9,220.3 C560.7,218.3 561.2,215.5 561.5,214.5" fill="none" stroke="#000" stroke-width="1.2" />
<path d="M537.6,259.7 C538.6,259.6 541.7,259.4 543.8,259.1 C545.9,258.8 548.4,258.1 550.1,257.8 C551.8,257.5 552.8,257 553.9,257.2 C555,257.4 556.1,258.3 557,259.1 C557.9,259.9 558.9,260.9 559.5,262.2 C560.1,263.5 560.4,265.4 560.8,267.2 C561.2,269 561.5,269.5 562,273 C562.5,276.5 563.4,282.7 564,288 C564.6,293.3 565.4,300.8 565.8,304.7 C566.2,308.6 566.5,310.4 566.6,311.5" fill="none" stroke="#000" stroke-width="1.2" />
<path d="M537.6,262.2 C538.8,262.2 542.7,262 545,262.2 C547.3,262.4 549.3,262.7 551.3,263.5 C553.3,264.3 555.7,265.6 557,267.2 C558.3,268.8 558.2,270.4 558.9,273 C559.6,275.6 560.5,278.8 561.4,283 C562.2,287.2 563.2,293.2 564,298 C564.8,302.8 565.8,309.2 566.2,311.5" fill="none" stroke="#000" stroke-width="1.2" />
<path d="M566.4,311.8 C567.2,309.4 569.5,302.8 571.4,297.2 C573.3,291.6 575.6,284.2 577.7,278.3 C579.8,272.4 581.5,270.3 584,262 C586.5,253.7 590.9,235.3 592.8,228.3 C594.7,221.3 594.7,222.2 595.3,219.8 C595.9,217.4 596.3,215 596.5,214" fill="none" stroke="#000" stroke-width="1.2" />
<path d="M567.8,312.4 C568.7,310 571.1,303.7 573,298.2 C574.9,292.7 577.3,285.3 579.4,279.5 C581.5,273.7 583.2,271.9 585.6,263.5 C588,255.1 591.9,236.3 593.6,229 C595.3,221.7 595.2,222.3 595.8,219.8 C596.3,217.3 596.7,215 596.9,214" fill="none" stroke="#000" stroke-width="1.2" />
<path d="M537.6,262 C538.3,264.5 540.1,272.3 541.6,277.1 C543.1,281.9 545.4,288.1 546.6,290.9 C547.9,293.7 548.3,294 549.1,294 C549.9,294 550.5,293.1 551.6,290.9 C552.8,288.7 554.5,284.6 556,280.8 C557.5,277 558.9,274 560.4,268 C561.9,262 563.5,253 565,245 C566.5,237 568.4,225 569.2,219.8 C570,214.6 569.9,215 570,214" fill="none" stroke="#000" stroke-width="1.2" />
<path d="M537.6,260 C538.4,262.7 540.7,271.1 542.3,276 C543.9,280.9 546.1,286.8 547.3,289.5 C548.5,292.2 548.9,292.4 549.7,292.3 C550.5,292.2 551,291.2 552.2,289 C553.4,286.8 555.2,282.8 556.8,279 C558.4,275.2 559.9,272 561.6,266 C563.3,260 565.4,250.7 567,243 C568.6,235.3 570.5,224.6 571.4,219.8 C572.3,215 572.1,215 572.3,214" fill="none" stroke="#000" stroke-width="1.2" />
<path d="M537.6,313.5 C538.4,312 540.7,307.8 542.6,304.7 C544.5,301.6 546.7,298.2 548.8,294.6 C550.9,291 553.2,287.3 555.1,283.3 C557,279.3 558.8,274.4 560.3,270.8 C561.8,267.2 562.3,267.5 563.8,262 C565.3,256.5 567.6,245 569.2,238 C570.8,231 572.7,223.8 573.6,219.8 C574.5,215.8 574.5,215 574.7,214" fill="none" stroke="#000" stroke-width="1.2" />
<path d="M573.9,214 C574,215 574,214.9 574.6,219.8 C575.2,224.7 576.6,234.5 577.6,243.4 C578.6,252.3 579.8,266.8 580.4,273 C581,279.2 581,276.5 581.5,280.8 C582,285.1 583.1,294 583.6,298.6 C584.1,303.2 584.4,305.1 584.8,308.7 C585.2,312.3 585.6,316.4 586.2,320.2 C586.8,324 587.4,328.1 588.2,331.7 C589,335.3 590.1,339 591.1,341.8 C592.1,344.6 593.2,346.7 594.4,348.3 C595.5,349.9 596.8,350.9 598,351.2 C599.2,351.5 600.5,351.1 601.6,350.4 C602.7,349.7 603.5,348.1 604.5,346.8 C605.5,345.6 606.6,343.6 607.4,342.9 C608.2,342.1 609.1,342.4 609.5,342.3" fill="none" stroke="#000" stroke-width="1.2" />
<path d="M573.9,214 C574,215 574,214.9 574.6,219.8 C575.2,224.7 576.5,234.5 577.5,243.4 C578.5,252.3 579.6,266.8 580.3,273 C580.9,279.2 580.8,276.5 581.4,280.8 C582,285.1 583,294 583.6,298.6 C584.2,303.2 584.4,305.1 584.9,308.7 C585.4,312.3 585.8,316.5 586.4,320.2 C587,323.9 587.8,327.6 588.7,331 C589.6,334.4 590.8,337.8 591.8,340.4 C592.8,343 593.9,345.1 594.9,346.6 C595.9,348.1 596.9,349 598,349.3 C599.1,349.6 600.4,349.3 601.4,348.6 C602.4,347.9 603.3,346.3 604.3,345.3 C605.3,344.3 606.3,343 607.2,342.5 C608.1,342 609.1,342.3 609.5,342.3" fill="none" stroke="#000" stroke-width="1.2" />
<path d="M537.6,313.5 C538.6,313.1 541.9,311.6 543.8,311 C545.7,310.4 547.4,309.3 548.8,309.7 C550.2,310.1 550.7,312.2 552,313.5 C553.3,314.8 555,316.6 556.4,317.2 C557.8,317.8 558.9,317.8 560.1,317.2 C561.4,316.6 562.9,314.3 563.9,313.5 C564.9,312.7 565.8,311.6 566.4,312.2 C567,312.8 567.2,314.6 567.7,317.2 C568.2,319.8 568.6,320.9 569.2,327.7 C569.8,334.5 570.7,349.3 571.3,358 C571.9,366.7 571.9,371.3 572.7,380 C573.5,388.7 574.6,395.6 576.1,410 C577.6,424.4 580.6,455.5 581.7,466.7 C582.8,477.9 582.5,475.3 582.7,477" fill="none" stroke="#0000f0" stroke-width="1.35" />
<path d="M537.6,313.4 C538.9,313.8 543.4,315.5 545.3,315.7 C547.2,315.9 548,314.3 549.1,314.6 C550.2,314.9 550.5,315.6 551.6,317.6 C552.8,319.6 554.8,324.6 556,326.4 C557.2,328.2 557.9,328.9 559,328.5 C560.1,328.1 561.3,326.6 562.5,324 C563.7,321.4 565.8,314.8 566.4,313" fill="none" stroke="#000" stroke-width="1.2" />
<path d="M609.5,342.3 C609.2,342.6 608.4,342.6 607.9,343.8 C607.4,345 607,346.5 606.2,349.5 C605.4,352.5 604.4,356.9 603.3,362 C602.1,367.1 600.6,372 599.3,380 C597.9,388 596.5,400 595.2,410 C593.9,420 592.4,430.5 591.3,440 C590.2,449.5 589,460.8 588.4,467 C587.8,473.2 587.7,475.3 587.6,477" fill="none" stroke="#0000f0" stroke-width="1.35" />
<path d="M609.5,342.3 C609.3,342.5 608.7,342.4 608.3,343.6 C607.9,344.8 607.5,345.4 606.9,349.5 C606.2,353.6 605.5,360.4 604.4,368 C603.3,375.6 601.7,384.7 600.3,395 C598.9,405.3 597.2,418 595.8,430 C594.3,442 592.4,459.2 591.6,467 C590.8,474.8 590.9,475.3 590.8,477" fill="none" stroke="#f00000" stroke-width="1.35" />
<path d="M609.5,342.3 C609.4,342.5 608.9,342.2 608.6,343.4 C608.3,344.6 608,345.4 607.5,349.5 C607,353.6 606.3,360.4 605.3,368 C604.3,375.6 602.8,384.7 601.4,395 C600,405.3 598.4,418 597,430 C595.6,442 593.8,459.2 593,467 C592.2,474.8 592.3,475.3 592.2,477" fill="none" stroke="#000" stroke-width="1.2" />
<path d="M594,477 C594.1,475.3 594.2,474 594.8,467 C595.4,460 596.4,448.2 597.6,435 C598.8,421.8 600.7,398.7 602.1,388 C603.5,377.3 604.8,374.9 606,371 C607.2,367.1 608.3,364.7 609.5,364.7 C610.7,364.7 611.8,367.1 613,371 C614.2,374.9 615.1,378.3 616.7,388 C618.3,397.7 620.9,415.8 622.8,429 C624.7,442.2 626.9,459 628,467 C629.1,475 629.1,475.3 629.3,477" fill="none" stroke="#000" stroke-width="1.2" />
<path d="M609.5,342.3 C609.8,342.6 610.5,342.7 611,343.8 C611.5,344.9 611.9,346 612.6,349 C613.3,352 614,355.7 615,362 C616,368.3 617.1,375.5 618.6,386.8 C620.1,398.1 622.7,416.6 624.1,430 C625.5,443.4 626.2,459.2 626.8,467 C627.4,474.8 627.4,475.3 627.5,477" fill="none" stroke="#f00000" stroke-width="1.35" />
<path d="M609.5,342.3 C609.8,342.4 610.6,342.3 611.3,343.2 C612,344.1 612.4,344.4 613.6,347.5 C614.8,350.6 616.9,356.5 618.6,362 C620.4,367.5 621.8,375 624.1,380.3 C626.4,385.6 629.6,394 632.3,394 C635,394 637.6,386.2 640.5,380.3 C643.4,374.4 646.7,365.4 649.7,358.3 C652.8,351.2 655.8,343.6 658.8,337.5 C661.8,331.4 666.3,324.3 668,321.4 C669.7,318.5 668.8,320.2 668.9,320" fill="none" stroke="#000" stroke-width="1.2" />
<path d="M609.5,342.3 C609.8,342.5 610.6,342.5 611.2,343.6 C611.8,344.7 612.1,344.9 613.2,349 C614.3,353.1 616.3,361.5 618,368 C619.7,374.5 621.3,382.8 623.5,388 C625.7,393.2 628.6,399.8 631.4,399.5 C634.1,399.2 637,392.4 640,386 C643,379.6 646.6,368.8 649.7,361 C652.8,353.2 655.8,345.8 658.8,339.5 C661.8,333.2 666.3,326 668,323 C669.7,320 668.8,321.8 668.9,321.5" fill="none" stroke="#0000f0" stroke-width="1.35" />
<path d="M648,477 C648.3,475.3 648.4,474.9 649.8,467 C651.2,459.1 654,442 656.3,429.5 C658.5,417 661.3,400.9 663.3,392 C665.2,383.1 667.1,379.2 668,376.3 C668.9,373.4 668.8,374.8 668.9,374.5" fill="none" stroke="#000" stroke-width="1.2" />
<path d="M647,477 C647.3,475.3 647.4,475 648.8,467 C650.2,459 652.9,441.6 655.2,429 C657.5,416.4 660.4,400.2 662.5,391.2 C664.6,382.2 666.9,377.8 668,374.8 C669.1,371.8 668.8,373.3 668.9,373" fill="none" stroke="#f00000" stroke-width="1.35" />
<path d="M635.6,214 C635.8,214.9 636.1,217.2 636.9,219.7 C637.7,222.2 638.3,222.4 640.5,228.8 C642.7,235.2 646.6,249.2 650,258 C653.4,266.8 658.6,276.7 661.1,281.8 C663.6,286.9 663.7,286.7 665,288.8 C666.3,290.9 668.2,293.6 668.9,294.5" fill="none" stroke="#000" stroke-width="1.2" />
<path d="M637.2,213 C637.4,213.9 637.7,216.2 638.5,218.7 C639.3,221.2 639.9,221.4 642.1,227.8 C644.3,234.2 648.2,248.2 651.6,257 C655,265.8 660.2,275.7 662.7,280.8 C665.2,285.9 665.3,285.7 666.6,287.8 C667.9,289.9 669.9,292.6 670.5,293.5" fill="none" stroke="#000" stroke-width="1.2" />
<path d="M654.2,214 C654.4,214.9 654.6,217.2 655.2,219.7 C655.8,222.2 656.9,225.2 657.9,228.8 C658.9,232.4 660,237.1 661.1,241.5 C662.2,245.9 662.9,250.4 664.2,255.5 C665.5,260.6 668.1,269.2 668.9,272" fill="none" stroke="#000" stroke-width="1.2" />
</g>
<rect x="606.2" y="339.7" width="6.9" height="3.6" fill="none" stroke="#000" stroke-width="1"/><path d="M607,342.2 L612.4,342.2" stroke="#000" stroke-width="1.3"/>
<rect x="491.6" y="394.9" width="3.2" height="6.8" fill="none" stroke="#000" stroke-width="1"/>
<path d="M605.9,339.6 L585.7,298.5" fill="none" stroke="#000" stroke-width="1.35" stroke-dasharray="7,3.5"/>
<path d="M613.4,339.6 L661,298.5" fill="none" stroke="#000" stroke-width="1.35" stroke-dasharray="7,3.5"/>
<path d="M494.9,394.6 L522.7,367.8" fill="none" stroke="#000" stroke-width="1.35" stroke-dasharray="7,3.5"/>
<path d="M494.9,401.6 L522.7,449.8" fill="none" stroke="#000" stroke-width="1.35" stroke-dasharray="7,3.5"/>
<rect x="585.7" y="229.7" width="75.3" height="68.8" fill="#fff" stroke="#000" stroke-width="1.3"/>
<clipPath id="clipi1"><rect x="585.7" y="229.7" width="75.3" height="68.8"/></clipPath>
<g clip-path="url(#clipi1)">
<path d="M621.5,229.7 L621.5,298.5" fill="none" stroke="#999" stroke-width="0.8" stroke-dasharray="3,2"/>
<path d="M585.7,238.6 C588.8,240.7 598.4,246.9 604.4,251.2 C610.4,255.5 618.6,262.1 621.5,264.3" fill="none" stroke="#000" stroke-width="1.35" />
<path d="M621.5,264.3 C622.8,263.3 626.4,260.3 629,258.3 C631.6,256.3 633.4,254.7 636.9,252.5 C640.4,250.3 645.9,247.3 649.9,245.1 C653.9,242.9 659.1,240.3 661,239.4" fill="none" stroke="#000" stroke-width="1.35" />
<path d="M585.7,247.6 L621.5,264.3" fill="none" stroke="#000" stroke-width="1.35" />
<path d="M585.7,280.1 L621.5,264.3" fill="none" stroke="#000" stroke-width="1.35" />
<path d="M588.9,298.5 L621.5,264.3" fill="none" stroke="#000" stroke-width="1.35" />
<path d="M585.7,255.7 C588.8,256.4 598,258.4 604,259.8 C610,261.2 618.6,263.6 621.5,264.3" fill="none" stroke="#0000f0" stroke-width="1.7" />
<path d="M621.5,264.3 C624.6,264.4 633.4,264.7 640,265.2 C646.6,265.7 657.5,266.8 661,267.1" fill="none" stroke="#0000f0" stroke-width="1.7" />
<path d="M585.7,285.5 L621.5,264.3 L659.9,298.7" fill="none" stroke="#f00000" stroke-width="1.7" />
<circle cx="623.1" cy="263.8" r="13.9" fill="none" stroke="#000" stroke-width="1.1" stroke-dasharray="7,4.5" stroke-dashoffset="3"/>
</g>
<rect x="522.7" y="367.8" width="42.1" height="82" fill="#fff" stroke="#000" stroke-width="1.3"/>
<clipPath id="clipi2"><rect x="522.7" y="367.8" width="42.1" height="82"/></clipPath>
<g clip-path="url(#clipi2)">
<path d="M522,362.5 C522.9,363.4 525.9,366.4 527.5,367.8 C529.1,369.2 530,370.1 531.5,371.2 C533,372.3 534.6,373.6 536.2,374.5 C537.8,375.4 539.4,376.2 541,376.8 C542.6,377.4 544.2,377.7 545.9,377.8 C547.6,377.9 549.4,377.6 551,377.2 C552.6,376.8 554,376.2 555.5,375.5 C557,374.8 558.5,374 560,373 C561.5,372 563.5,370.7 564.8,369.7 C566.1,368.7 567.5,367.4 568,367" fill="none" stroke="#0000f0" stroke-width="1.25" />
<path d="M520,365.5 C520.5,366.1 521.5,367.2 522.7,368.8 C524,370.4 525.9,372.9 527.5,375 C529.1,377.1 530.9,379.2 532.4,381.3 C533.9,383.4 535,385.5 536.3,387.6 C537.6,389.7 539.1,392.4 540.1,393.9 C541.1,395.4 541.6,396.1 542.2,396.8 C542.9,397.5 543.4,398 544,398.2 C544.6,398.4 545.4,398.4 546,398.1 C546.6,397.9 546.9,397.7 547.8,396.7 C548.7,395.7 550.2,393.8 551.5,392.2 C552.8,390.6 554.1,388.7 555.5,387.1 C556.9,385.5 558.5,384.1 560,382.6 C561.5,381.2 563.5,379.6 564.8,378.4 C566.1,377.2 567.5,376.1 568,375.6" fill="none" stroke="#000" stroke-width="1.15" />
<path d="M519,433.3 C519.6,432.7 521.3,431 522.7,429.6 C524.1,428.2 525.9,426.4 527.5,424.8 C529.1,423.2 531,421.4 532.4,419.9 C533.8,418.4 534.9,417.1 536,415.8 C537.1,414.5 538.2,413.2 539.1,412.2 C540,411.2 540.9,410.5 541.6,410 C542.4,409.5 542.9,409.3 543.6,409.3 C544.3,409.3 545.1,409.6 545.8,410.2 C546.5,410.8 546.8,411.3 547.8,412.6 C548.8,413.9 550.2,416.1 551.5,418 C552.8,419.9 554.1,421.8 555.5,423.8 C556.9,425.8 558.5,428 560,430.2 C561.5,432.4 563.5,435 564.8,436.9 C566.1,438.8 567.5,440.7 568,441.5" fill="none" stroke="#f00000" stroke-width="1.25" />
<path d="M519,451 C519.6,450.3 521.7,448 522.7,446.9 C523.8,445.8 524.3,445 525.3,444.2 C526.3,443.4 527.2,442.7 528.5,442.1 C529.8,441.5 531.4,440.9 533,440.6 C534.6,440.3 536.6,440.2 538.2,440.2 C539.8,440.2 541.2,440.5 542.5,440.8 C543.8,441.1 544.6,441.5 545.9,442.1 C547.1,442.7 548.7,443.5 550,444.3 C551.3,445.1 552.5,446 553.6,446.9 C554.7,447.8 555.6,448.8 556.5,449.8 C557.4,450.8 558.6,452.5 559,453" fill="none" stroke="#000" stroke-width="1.15" />
</g>
<text x="543.4" y="408.8" font-size="10.3" text-anchor="middle" font-weight="normal" font-style="normal" fill="#000" >2.73 meV</text>
<circle cx="434" cy="349.6" r="13.7" fill="none" stroke="#e0218a" stroke-width="1.3" stroke-dasharray="6.5,3.6"/>
<circle cx="477.6" cy="325.9" r="13.7" fill="none" stroke="#111" stroke-width="1.25" stroke-dasharray="6.5,3.6"/>
<circle cx="537.5" cy="311.6" r="13.7" fill="none" stroke="#111" stroke-width="1.25" stroke-dasharray="6.5,3.6"/>
<text x="413.6" y="374.3" font-size="12" text-anchor="middle" font-weight="normal" font-style="normal" fill="#000" >Weyl</text>
<text x="413.6" y="388" font-size="12" text-anchor="middle" font-weight="normal" font-style="normal" fill="#000" >points</text>
<text x="463.5" y="295.6" font-size="12" text-anchor="middle" font-weight="normal" font-style="normal" fill="#000" >Four-fold</text>
<text x="463.5" y="308.4" font-size="12" text-anchor="middle" font-weight="normal" font-style="normal" fill="#000" ><tspan font-style="italic">C</tspan>=+2</text>
<text x="543" y="340.8" font-size="12" text-anchor="middle" font-weight="normal" font-style="normal" fill="#000" >Four-fold</text>
<text x="543" y="353.8" font-size="12" text-anchor="middle" font-weight="normal" font-style="normal" fill="#000" ><tspan font-style="italic">C</tspan><tspan fill="#9c9c9c" stroke="#9c9c9c" stroke-width="1.5">=</tspan>+4</text>
<text x="615.5" y="309.8" font-size="12" text-anchor="middle" font-weight="normal" font-style="normal" fill="#000" >Six-fold</text>
<text x="615.5" y="322.6" font-size="12" text-anchor="middle" font-weight="normal" font-style="normal" fill="#000" ><tspan font-style="italic">C</tspan><tspan fill="#9c9c9c" stroke="#9c9c9c" stroke-width="1.5">=</tspan>+4</text>
<rect x="395.0" y="218.9" width="273.9" height="248.9" fill="none" stroke="#000" stroke-width="1.7"/>
<text x="391.2" y="223.9" font-size="14.8" text-anchor="end" font-weight="normal" font-style="normal" fill="#000" >0.5</text>
<text x="391.2" y="265.4" font-size="14.8" text-anchor="end" font-weight="normal" font-style="normal" fill="#000" >0.4</text>
<text x="391.2" y="306.9" font-size="14.8" text-anchor="end" font-weight="normal" font-style="normal" fill="#000" >0.3</text>
<text x="391.2" y="348.4" font-size="14.8" text-anchor="end" font-weight="normal" font-style="normal" fill="#000" >0.2</text>
<text x="391.2" y="389.9" font-size="14.8" text-anchor="end" font-weight="normal" font-style="normal" fill="#000" >0.1</text>
<text x="391.2" y="431.4" font-size="14.8" text-anchor="end" font-weight="normal" font-style="normal" fill="#000" >0.0</text>
<text x="391.2" y="472.9" font-size="14.8" text-anchor="end" font-weight="normal" font-style="normal" fill="#000" >-0.1</text>
<text x="394.9" y="485.5" font-size="14.5" text-anchor="middle" font-weight="normal" font-style="normal" fill="#000" >Γ</text>
<text x="436.6" y="485.5" font-size="14.5" text-anchor="middle" font-weight="normal" font-style="normal" fill="#000" >X</text>
<text x="478.5" y="485.5" font-size="14.5" text-anchor="middle" font-weight="normal" font-style="normal" fill="#000" >M</text>
<text x="537.6" y="485.5" font-size="14.5" text-anchor="middle" font-weight="normal" font-style="normal" fill="#000" >Γ</text>
<text x="609.5" y="485.5" font-size="14.5" text-anchor="middle" font-weight="normal" font-style="normal" fill="#000" >R</text>
<text x="668.9" y="485.5" font-size="14.5" text-anchor="middle" font-weight="normal" font-style="normal" fill="#000" >X</text>
<text x="532" y="209.5" font-size="14.5" text-anchor="middle" font-weight="normal" font-style="normal" fill="#000" >With SOC</text>
<text x="346.5" y="208.8" font-size="19.5" text-anchor="start" font-weight="bold" font-style="normal" fill="#000" >(e)</text>
<text transform="translate(362.0,343.4) rotate(-90)" font-size="19.7" text-anchor="middle">Energy (eV)</text>
<text x="670.2" y="429.2" font-size="13.6" text-anchor="start" font-weight="normal" font-style="normal" fill="#000" >E</text>
<text x="678.5" y="432.4" font-size="10.8" text-anchor="start" font-weight="normal" font-style="normal" fill="#000" >F</text>
</svg></body></html>
